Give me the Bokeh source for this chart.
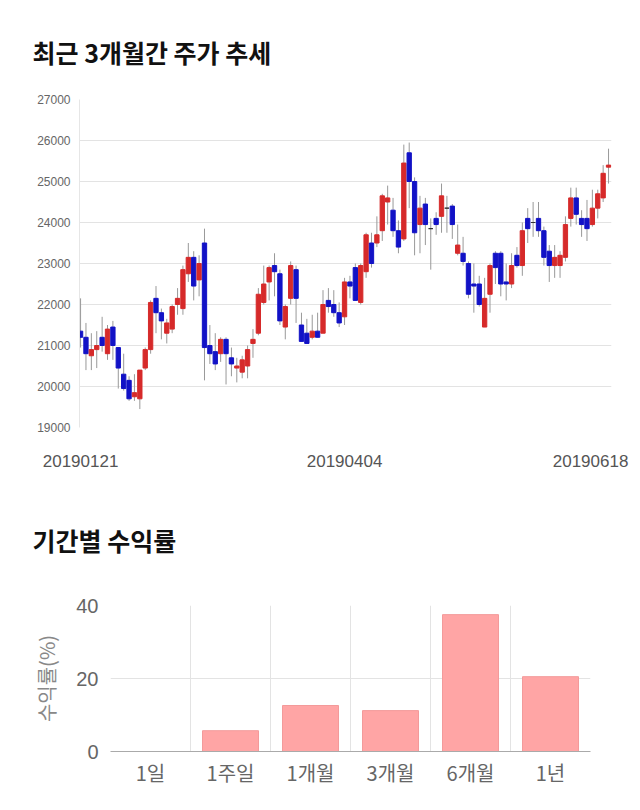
import numpy as np
from bokeh.plotting import figure
from bokeh.layouts import column
from bokeh.models import FixedTicker, Label
from bokeh.embed import file_html
from bokeh.resources import INLINE

# ---------------- data ----------------
date_labels = ["20190121", "20190404", "20190618"]
date_label_idx = [0, 49, 98]

opens = [21350, 21200, 20750, 20900, 21200, 20800, 21450, 20950, 20300, 20150,
         19750, 19700, 20450, 20900, 22150, 21800, 21300, 21400, 22000, 21900,
         22750, 23150, 22600, 23500, 21000, 20850, 20800, 21150, 20700, 20450,
         20350, 20500, 21050, 21300, 22050, 22550, 22950, 22750, 21450, 22150,
         22850, 21500, 21300, 21200, 21350, 21300, 22100, 22000, 21800, 21700,
         22550, 22900, 22050, 22800, 23500, 23500, 23800, 24500, 24300, 23800,
         23600, 25700, 25000, 23950, 24450, 23850, 24100, 24150, 24350, 24400,
         23250, 23250, 23000, 22500, 22500, 21450, 22250, 23250, 23250, 22550,
         22500, 23200, 22950, 24100, 24000, 24100, 23800, 23300, 22950, 22950,
         23150, 24100, 24600, 24100, 24100, 23950, 24350, 24600, 25350]
closes = [21200, 20800, 20900, 21000, 21000, 21400, 21000, 20450, 19950, 19700,
          19850, 20400, 20900, 22050, 21800, 21600, 21550, 21950, 22150, 22850,
          23150, 22450, 23000, 20950, 20800, 20550, 21150, 20800, 20550, 20500,
          20650, 20900, 21150, 22250, 22500, 22900, 22800, 21600, 21950, 22950,
          22150, 21100, 21050, 21350, 21200, 22000, 21950, 21800, 21550, 22550,
          22450, 22100, 22950, 23700, 23000, 23700, 24650, 24600, 23800, 23400,
          25450, 25000, 23750, 24350, 23950, 23850, 23950, 24650, 24350, 23950,
          23450, 23050, 22250, 22450, 22000, 22150, 22950, 22900, 22500, 22500,
          22950, 22950, 23800, 23850, 24000, 23800, 23150, 22950, 23150, 23200,
          23950, 24600, 24200, 23950, 23850, 24350, 24700, 25200, 25400]
highs = [22150, 21550, 21300, 21350, 21700, 21500, 21600, 20950, 20800, 20250,
         20300, 20400, 20950, 22100, 22450, 21900, 21650, 22000, 22400, 22950,
         23500, 23300, 23200, 23850, 21500, 21300, 21200, 21200, 20950, 20700,
         20750, 21000, 21400, 22400, 22950, 22950, 23250, 22850, 22000, 23050,
         22950, 21800, 21650, 21750, 21800, 22350, 22400, 22350, 22050, 22650,
         22700, 23000, 23000, 23750, 23750, 24150, 24700, 24900, 24600, 24050,
         25900, 25950, 25100, 24650, 24600, 24100, 24250, 24950, 24650, 24450,
         23950, 23650, 23050, 23000, 22700, 22650, 23000, 23300, 23300, 23000,
         23250, 23400, 24000, 24350, 24500, 24500, 23900, 23450, 23450, 23300,
         24150, 24850, 24850, 24300, 24550, 24800, 24800, 25400, 25800]
lows = [20950, 20400, 20400, 20450, 20850, 20650, 20650, 19950, 19900, 19650,
        19650, 19450, 20400, 20800, 21300, 21150, 21050, 21300, 21750, 21750,
        22550, 22100, 22200, 20150, 20550, 20400, 20600, 20050, 20250, 20100,
        20200, 20200, 20700, 21250, 22000, 22100, 22200, 21500, 21150, 22000,
        21550, 21100, 21050, 21150, 21200, 21300, 21800, 21700, 21450, 21500,
        22150, 22100, 22000, 22650, 22900, 23400, 23550, 23950, 23650, 23250,
        23550, 24350, 23200, 23250, 23450, 22850, 23700, 23750, 23750, 23600,
        23200, 22950, 22150, 21800, 21950, 21450, 21800, 22500, 22200, 22100,
        22400, 22900, 22700, 23500, 23650, 23650, 22950, 22550, 22650, 22650,
        23050, 23900, 23950, 23650, 23550, 23900, 24100, 24500, 24950]

price_ticks = [19000, 20000, 21000, 22000, 23000, 24000, 25000, 26000, 27000]

periods = ["1일", "1주일", "1개월", "3개월", "6개월", "1년"]
returns = [0.0, 5.7, 12.6, 11.2, 37.5, 20.5]
return_ticks = [0, 20, 40]

# ---------------- styles ----------------
LATIN = "'Liberation Sans', 'Noto Sans CJK KR'"
KOR = "'Noto Sans CJK KR', 'Liberation Sans'"
UP = "#d62a2a"
DOWN = "#1212c6"
FLAT = "#333333"
GRID = "#e3e3e3"

# ---------------- candlestick chart ----------------
n = len(opens)
idx = np.arange(n)
o = np.array(opens)
c = np.array(closes)
colors = [UP if cc > oo else (DOWN if cc < oo else FLAT) for oo, cc in zip(o, c)]

p1 = figure(width=640, height=490, x_range=(-0.2, n - 1 + 0.55), y_range=(19000, 27000),
            output_backend="svg", toolbar_location=None,
            min_border_left=79, min_border_right=29, min_border_top=99, min_border_bottom=63)
p1.frame_align = False
p1.title.text = "최근 3개월간 주가 추세"
p1.title.align = "left"
p1.title.offset = -47
p1.title.standoff = 59
p1.title.text_font = KOR
p1.title.text_font_size = "25px"
p1.title.text_font_style = "bold"
p1.title.text_color = "#111111"
p1.outline_line_color = None

p1.segment(x0=idx, y0=lows, x1=idx, y1=highs, line_color="#999999", line_width=1)
p1.vbar(x=idx, width=0.8, top=np.maximum(o, c), bottom=np.minimum(o, c),
        fill_color=colors, line_color=colors, line_width=1)

p1.yaxis.ticker = FixedTicker(ticks=price_ticks)
p1.yaxis.major_label_text_font = LATIN
p1.yaxis.major_label_text_font_size = "12px"
p1.yaxis.major_label_text_color = "#666666"
p1.yaxis.major_tick_line_color = None
p1.yaxis.minor_tick_line_color = None
p1.yaxis.axis_line_color = "#e6e6e6"
p1.yaxis.major_label_standoff = 3

p1.xaxis.ticker = FixedTicker(ticks=date_label_idx[:2])
p1.xaxis.major_label_overrides = {date_label_idx[i]: date_labels[i] for i in range(2)}
p1.xaxis.major_label_text_font = LATIN
p1.xaxis.major_label_text_font_size = "17px"
p1.xaxis.major_label_text_color = "#555555"
p1.xaxis.major_tick_line_color = None
p1.xaxis.minor_tick_line_color = None
p1.xaxis.axis_line_color = None
p1.xaxis.major_label_standoff = 21

# last date label, kept inside the page like the reference (placed in the side
# panel so that it is not clipped by the plot frame)
p1.add_layout(Label(x=date_label_idx[2], y=price_ticks[0] - 820, x_units="data", y_units="data",
                    text=date_labels[2], text_align="center", text_baseline="middle",
                    x_offset=-18, text_font=LATIN, text_font_size="17px",
                    text_color="#555555"), "below")

p1.xgrid.grid_line_color = None
p1.ygrid.grid_line_color = GRID

# ---------------- return bar chart ----------------
m = len(periods)
centers = np.arange(m) + 0.5

p2 = figure(width=640, height=320, x_range=(0, m), y_range=(0, 40),
            output_backend="svg", toolbar_location=None,
            min_border_left=110, min_border_right=50, min_border_top=115, min_border_bottom=59)
p2.frame_align = False
p2.outline_line_color = None

# section heading for the bar chart, drawn in the panel above the frame
p2.add_layout(Label(x=0, y=return_ticks[-1] + 18, x_units="data", y_units="data",
                    text="기간별 수익률", text_align="left", text_baseline="middle",
                    x_offset=-78, text_font=KOR, text_font_size="25px",
                    text_font_style="bold", text_color="#111111"), "above")

p2.vbar(x=centers, top=returns, bottom=0, width=0.7,
        fill_color="#ffa5a5", line_color="#f39a9a", line_width=1)

p2.yaxis.ticker = FixedTicker(ticks=return_ticks)
p2.yaxis.major_label_text_font = LATIN
p2.yaxis.major_label_text_font_size = "20px"
p2.yaxis.major_label_text_color = "#666666"
p2.yaxis.major_tick_line_color = None
p2.yaxis.minor_tick_line_color = None
p2.yaxis.axis_line_color = None
p2.yaxis.major_label_standoff = 6
p2.yaxis.axis_label = "수익률(%)"
p2.yaxis.axis_label_text_font = KOR
p2.yaxis.axis_label_text_font_size = "20px"
p2.yaxis.axis_label_text_font_style = "normal"
p2.yaxis.axis_label_text_color = "#888888"
p2.yaxis.axis_label_standoff = 12

p2.xaxis.ticker = FixedTicker(ticks=list(centers))
p2.xaxis.major_label_overrides = {float(centers[i]): periods[i] for i in range(m)}
p2.xaxis.major_label_text_font = KOR
p2.xaxis.major_label_text_font_size = "20px"
p2.xaxis.major_label_text_color = "#666666"
p2.xaxis.major_tick_line_color = None
p2.xaxis.minor_tick_line_color = None
p2.xaxis.axis_line_color = "#aaaaaa"
p2.xaxis.major_label_standoff = 0

p2.xgrid.ticker = FixedTicker(ticks=list(range(m + 1)))
p2.xgrid.grid_line_color = GRID
p2.ygrid.grid_line_color = GRID

layout = column(p1, p2, spacing=0)
open("out.html", "w").write(file_html(layout, INLINE))
